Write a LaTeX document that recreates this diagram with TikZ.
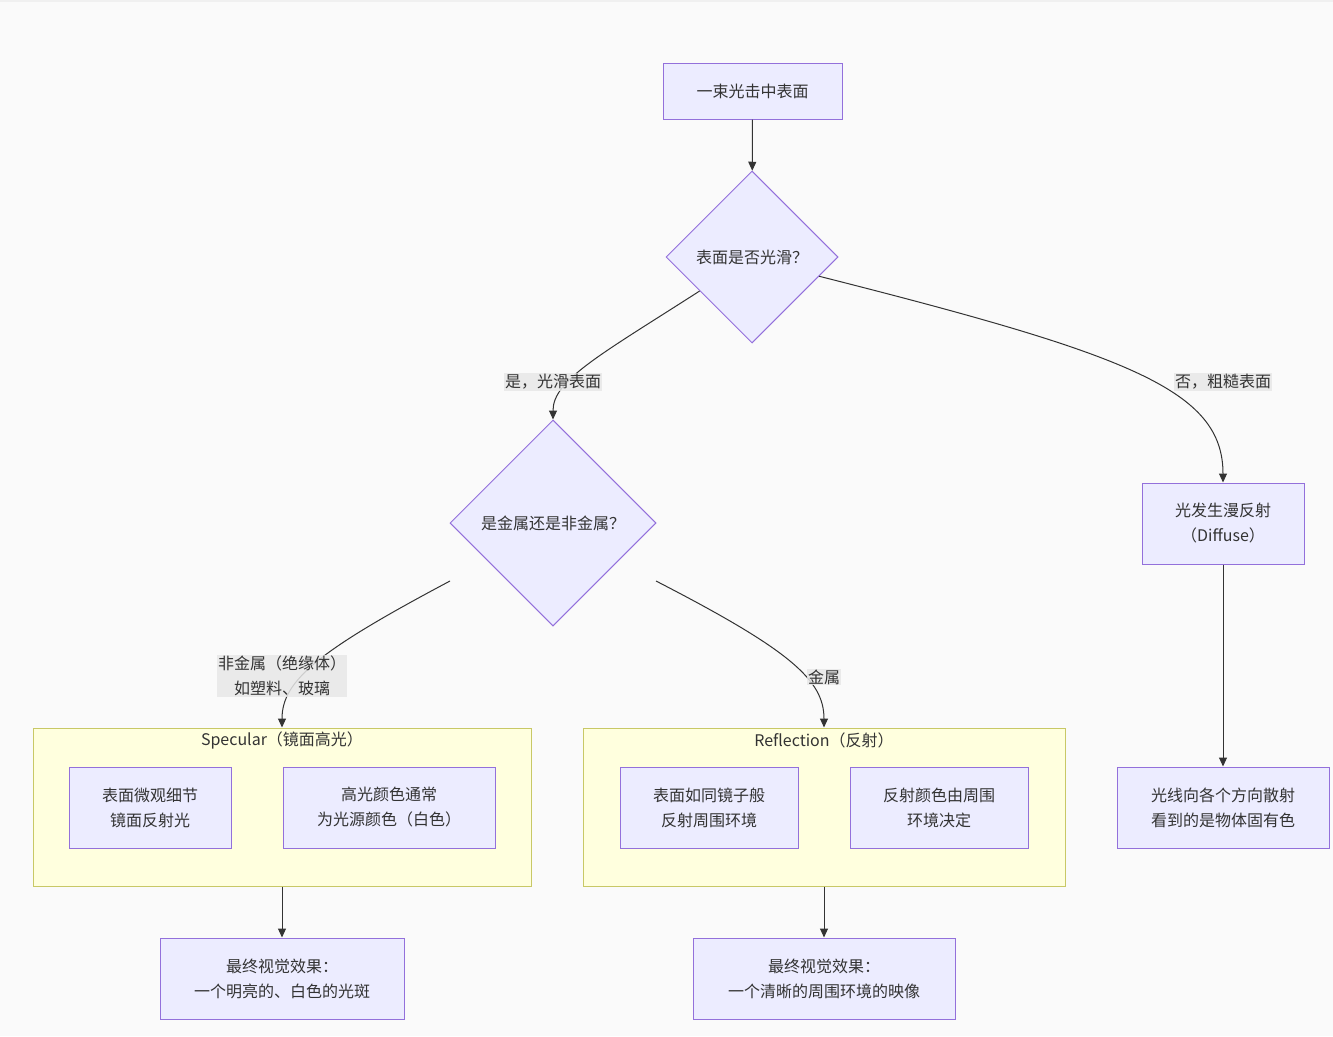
\documentclass[tikz,border=0pt]{standalone}
\usepackage{fontspec}
\setmainfont{Noto Sans CJK SC}
\usetikzlibrary{shapes.geometric,arrows.meta}
\definecolor{bgc}{HTML}{FAFAFA}
\definecolor{nodefill}{HTML}{ECECFF}
\definecolor{nodeline}{HTML}{9370DB}
\definecolor{clfill}{HTML}{FFFFDE}
\definecolor{clline}{HTML}{C8C866}
\definecolor{txt}{HTML}{333333}
\definecolor{lblbg}{HTML}{E8E8E8}
\tikzset{
  box/.style={rectangle, draw=nodeline, fill=nodefill, line width=1pt, inner sep=0pt, align=center, text=txt, font=\fontsize{16}{25}\selectfont},
  decision/.style={diamond, aspect=1, draw=nodeline, fill=nodefill, line width=1pt, inner sep=0pt, minimum width=#1, minimum height=#1, text=txt, font=\fontsize{16}{25}\selectfont},
  cluster/.style={rectangle, draw=clline, fill=clfill, line width=1pt, inner sep=0pt},
  cltitle/.style={text=txt, font=\fontsize{16}{20}\selectfont, inner sep=0pt},
  conn/.style={draw=txt, line width=1pt, -{Triangle[length=9pt,width=8pt]}},
  elabel/.style={fill=lblbg, fill opacity=0.85, text opacity=1, text=txt, align=center, inner sep=1pt, font=\fontsize{16}{25}\selectfont}
}
\begin{document}
\begin{tikzpicture}[x=1pt,y=-1pt]
\fill[bgc] (0,0) rectangle (1333,1036);
\fill[black!6] (0,0) rectangle (1333,2);
\useasboundingbox (0,0) rectangle (1333,1036);

% main nodes
\node[box, minimum width=179, minimum height=56] (A) at (752.5,91) {一束光击中表面};
\node[decision=172] (B) at (752,257) {表面是否光滑？};
\node[decision=206] (C) at (553,523) {是金属还是非金属？};
\node[box, minimum width=162, minimum height=81] (D) at (1223,523.5) {光发生漫反射\\（Diffuse）};
\node[box, minimum width=212, minimum height=81] (E) at (1223,807.5) {光线向各个方向散射\\看到的是物体固有色};

% clusters
\node[cluster, minimum width=498, minimum height=158] (SP) at (282,807) {};
\node[cltitle] (SPt) at (282,740) {Specular（镜面高光）};
\node[box, minimum width=162, minimum height=81] (S1) at (150,807.5) {表面微观细节\\镜面反射光};
\node[box, minimum width=212, minimum height=81] (S2) at (389,807.5) {高光颜色通常\\为光源颜色（白色）};

\node[cluster, minimum width=482, minimum height=158] (RF) at (824,807) {};
\node[cltitle] (RFt) at (824,740) {Reflection（反射）};
\node[box, minimum width=178, minimum height=81] (R1) at (709,807.5) {表面如同镜子般\\反射周围环境};
\node[box, minimum width=178, minimum height=81] (R2) at (939,807.5) {反射颜色由周围\\环境决定};

\node[box, minimum width=244, minimum height=81] (F) at (282,978.5) {最终视觉效果：\\一个明亮的、白色的光斑};
\node[box, minimum width=262, minimum height=81] (G) at (824,978.5) {最终视觉效果：\\一个清晰的周围环境的映像};

\coordinate (cL) at (450,581);
\coordinate (cR) at (656,581);

% connectors
\draw[conn] (A) -- (B);
\draw[conn] (B.213) .. controls (600,355) and (553,380) .. (C.north);
\draw[conn] (B.-16) .. controls (1130,355) and (1223,390) .. (D.north);
\draw[conn] (D) -- (E);
\draw[conn] (cL) .. controls (320,650) and (282,680) .. (SP.north);
\draw[conn] (cR) .. controls (790,650) and (824,680) .. (RF.north);
\draw[conn] (SP) -- (F);
\draw[conn] (RF) -- (G);

% edge labels
\node[elabel] (L1) at (553,382) {是，光滑表面};
\node[elabel] (L2) at (1223,382) {否，粗糙表面};
\node[elabel] (L3) at (282,676) {非金属（绝缘体）\\如塑料、玻璃};
\node[elabel] (L4) at (824,677) {金属};
\end{tikzpicture}
\end{document}
